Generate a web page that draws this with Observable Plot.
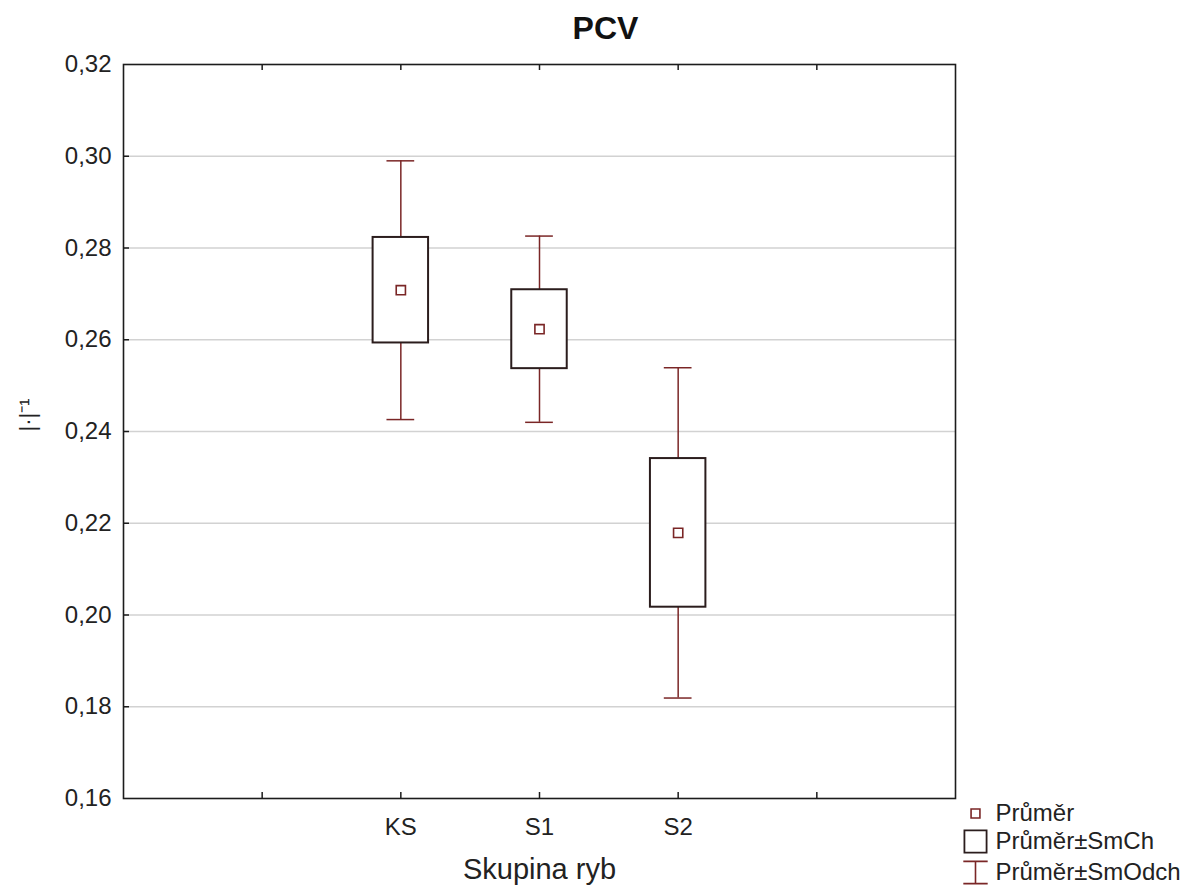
<!DOCTYPE html>
<html>
<head>
<meta charset="utf-8">
<script src="https://cdn.jsdelivr.net/npm/d3@7"></script>
<script src="https://cdn.jsdelivr.net/npm/@observablehq/plot@0.6"></script>
<style>
  body { margin: 0; background: #fff; }
  #chart svg { display: block; }
</style>
</head>
<body>
<div id="chart"></div>
<script>
// PCV by fish group: mean, mean ± standard error (box), mean ± standard deviation (whiskers)
const groups = ["KS", "S1", "S2"];
const means = [0.2708, 0.2623, 0.2179];
const stdErr = [0.0115, 0.0086, 0.0162];
const stdDev = [0.0282, 0.0203, 0.0360];

const yTicks = [0.16, 0.18, 0.20, 0.22, 0.24, 0.26, 0.28, 0.30, 0.32];
const legendLabels = ["Průměr", "Průměr±SmCh", "Průměr±SmOdch"];

const title = "PCV";
const xTitle = "Skupina ryb";
const yTitle = "|·|⁻¹";

// groups sit on slots 2..n+1 of an axis running 0..n+3, with tick marks on every inner slot
const rows = groups.map((g, i) => ({
  group: g,
  slot: i + 2,
  mean: means[i],
  se: stdErr[i],
  sd: stdDev[i]
}));
const xSlots = d3.range(1, groups.length + 3);

const W = 1203, H = 891;
const mL = 123, mR = 248, mT = 64, mB = 93;
const plotW = W - mL - mR, plotH = H - mT - mB;
const tickLen = 6;

const maroon = "#7a2626";
const boxInk = "#2b1d1d";
const frameInk = "#1c1c1c";
const font = "'Liberation Sans', Arial, sans-serif";

// I-beam glyph for the whisker legend entry
const ibeam = {
  draw(ctx, size) {
    const s = Math.sqrt(size);
    const h = s * 0.5, w = s * 0.55;
    ctx.moveTo(-w, -h); ctx.lineTo(w, -h);
    ctx.moveTo(0, -h); ctx.lineTo(0, h);
    ctx.moveTo(-w, h); ctx.lineTo(w, h);
  }
};

// legend rows: symbol and label share a vertical offset below the frame
const legendRowOffsets = [15, 43, 74];
const legendSymbols = [
  { symbol: "square", r: 5, fill: "#fff", stroke: maroon, strokeWidth: 1.6 },
  { symbol: "square", r: 12.5, fill: "#fff", stroke: boxInk, strokeWidth: 1.8 },
  { symbol: ibeam, r: 12.5, fill: "none", stroke: maroon, strokeWidth: 1.6 }
];
const legendMarks = legendLabels.flatMap((label, i) => [
  Plot.dot([label], { frameAnchor: "bottom-right", dx: 20, dy: legendRowOffsets[i], ...legendSymbols[i] }),
  Plot.text([label], {
    text: d => d, frameAnchor: "bottom-right", textAnchor: "start", lineAnchor: "middle",
    dx: 40, dy: legendRowOffsets[i], fontSize: 24, fill: "#222"
  })
]);

const chart = Plot.plot({
  width: W,
  height: H,
  marginLeft: mL,
  marginRight: mR,
  marginTop: mT,
  marginBottom: mB,
  style: { fontFamily: font, background: "#fff", overflow: "visible" },
  x: { type: "linear", domain: [0, groups.length + 3], axis: null },
  y: { domain: [yTicks[0], yTicks[yTicks.length - 1]], axis: null },
  marks: [
    // horizontal grid
    Plot.ruleY(yTicks.slice(1, -1), { stroke: "#d2d2d2", strokeWidth: 1.5 }),

    // inward tick marks
    Plot.ruleY(yTicks.slice(1, -1), { stroke: frameInk, strokeWidth: 1.5, insetRight: plotW - tickLen }),
    Plot.ruleX(xSlots, { stroke: frameInk, strokeWidth: 1.5, insetTop: plotH - tickLen }),
    Plot.ruleX(xSlots, { stroke: frameInk, strokeWidth: 1.5, insetBottom: plotH - tickLen }),

    // whiskers: mean ± SD
    Plot.ruleX(rows, { x: "slot", y1: d => d.mean - d.sd, y2: d => d.mean + d.sd, stroke: maroon, strokeWidth: 1.5 }),
    Plot.ruleY(rows, { y: d => d.mean + d.sd, x1: d => d.slot - 0.1, x2: d => d.slot + 0.1, stroke: maroon, strokeWidth: 1.5 }),
    Plot.ruleY(rows, { y: d => d.mean - d.sd, x1: d => d.slot - 0.1, x2: d => d.slot + 0.1, stroke: maroon, strokeWidth: 1.5 }),

    // boxes: mean ± SE
    Plot.rect(rows, {
      x1: d => d.slot - 0.2, x2: d => d.slot + 0.2,
      y1: d => d.mean - d.se, y2: d => d.mean + d.se,
      fill: "#fff", stroke: boxInk, strokeWidth: 2
    }),

    // means
    Plot.dot(rows, { x: "slot", y: "mean", symbol: "square", r: 5.2, fill: "#fff", stroke: maroon, strokeWidth: 1.6 }),

    Plot.frame({ stroke: frameInk, strokeWidth: 1.6 }),

    // axis labels
    Plot.text(yTicks, {
      y: d => d, text: d => d.toFixed(2).replace(".", ","),
      frameAnchor: "left", textAnchor: "end", dx: -12,
      fontSize: 24, fill: "#222"
    }),
    Plot.text(rows, {
      x: "slot", text: "group", frameAnchor: "bottom", lineAnchor: "middle",
      dy: 29, fontSize: 24, fill: "#222"
    }),
    Plot.text([xTitle], {
      text: d => d, frameAnchor: "bottom", lineAnchor: "middle",
      dy: 71, fontSize: 29, fill: "#222"
    }),
    Plot.text([yTitle], {
      text: d => d, frameAnchor: "left", rotate: -90, lineAnchor: "middle",
      dx: -96, fontSize: 22, fill: "#222"
    }),
    Plot.text([title], {
      text: d => d, frameAnchor: "top", lineAnchor: "middle",
      dx: 66, dy: -36, fontSize: 32, fontWeight: "bold", fill: "#111"
    }),

    ...legendMarks
  ]
});

document.getElementById("chart").append(chart);
</script>
</body>
</html>
